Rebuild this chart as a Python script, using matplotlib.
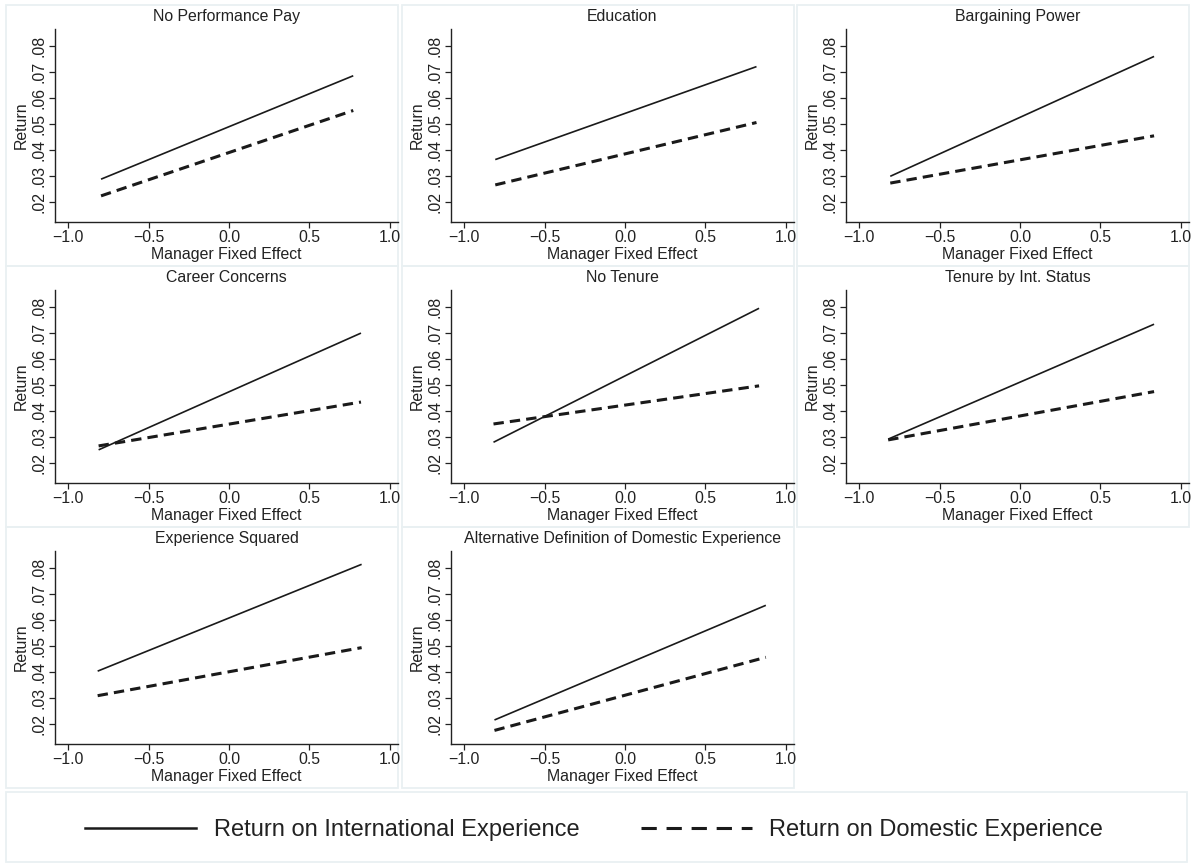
import numpy as np
import matplotlib.pyplot as plt
from matplotlib.lines import Line2D
from matplotlib.patches import Rectangle

plt.rcParams['font.family'] = ['Liberation Sans', 'DejaVu Sans']

#%% predicted returns at the ends of the manager fixed effect range
titles = ['No Performance Pay', 'Education', 'Bargaining Power',
          'Career Concerns', 'No Tenure', 'Tenure by Int. Status',
          'Experience Squared', 'Alternative Definition of Domestic Experience']
x_lo = [-0.795, -0.806, -0.806, -0.810, -0.817, -0.819, -0.816, -0.811]
x_hi = [0.772, 0.817, 0.833, 0.820, 0.833, 0.833, 0.824, 0.875]
intl_lo = [0.0289, 0.0364, 0.0300, 0.0252, 0.0281, 0.0293, 0.0404, 0.0217]
intl_hi = [0.0685, 0.0720, 0.0759, 0.0699, 0.0794, 0.0733, 0.0813, 0.0656]
dom_lo = [0.0225, 0.0267, 0.0274, 0.0267, 0.0351, 0.0290, 0.0310, 0.0177]
dom_hi = [0.0552, 0.0506, 0.0455, 0.0435, 0.0497, 0.0475, 0.0494, 0.0457]

xticks = [-1.0, -0.5, 0.0, 0.5, 1.0]
yticks = [0.02, 0.03, 0.04, 0.05, 0.06, 0.07, 0.08]
ytick_labels = ['.02', '.03', '.04', '.05', '.06', '.07', '.08']

W, H = 1191, 864
fig = plt.figure(figsize=(W / 100, H / 100), dpi=100)
fig.patch.set_facecolor('white')

frame_col = '#e9f0f2'
line_col = '#1a1a1a'
fs = 11.4

col_left = [6, 402, 797]
row_top = [5, 266, 527]
panel_w, panel_h = 392, 261


def px_rect(x0, y0, w, h):
    # pixel box (top-left origin) -> figure fraction
    return [x0 / W, 1 - (y0 + h) / H, w / W, h / H]


for i in range(len(titles)):
    r, c = divmod(i, 3)
    px, py = col_left[c], row_top[r]
    fig.patches.append(Rectangle((px / W, 1 - (py + panel_h) / H), panel_w / W, panel_h / H,
                                 transform=fig.transFigure, fill=False,
                                 edgecolor=frame_col, lw=1.3, zorder=-1))
    ax = fig.add_axes(px_rect(px + 49, py + 24, panel_w - 49, 193))
    ax.plot([x_lo[i], x_hi[i]], [intl_lo[i], intl_hi[i]], color=line_col, lw=1.2,
            solid_capstyle='butt')
    ax.plot([x_lo[i], x_hi[i]], [dom_lo[i], dom_hi[i]], color=line_col, lw=2.2,
            dashes=(3.4, 2.0), dash_capstyle='butt')
    ax.set_xlim(-1.081, 1.05)
    ax.set_ylim(0.0125, 0.0864)
    ax.set_xticks(xticks)
    ax.set_xticklabels(['\u22121.0', '\u22120.5', '0.0', '0.5', '1.0'])
    ax.set_yticks(yticks)
    ax.set_yticklabels(ytick_labels, rotation=90, va='center')
    for s in ['top', 'right']:
        ax.spines[s].set_visible(False)
    for s in ['left', 'bottom']:
        ax.spines[s].set_color('#222222')
        ax.spines[s].set_linewidth(1.0)
    ax.tick_params(length=4, width=0.9, color='#222222', labelsize=fs,
                   labelcolor='#222222', pad=2)
    ax.set_xlabel('Manager Fixed Effect', fontsize=fs, labelpad=1, color='#222222')
    ax.set_ylabel('Return', fontsize=fs, labelpad=2, color='#222222')
    ax.set_title(titles[i], fontsize=fs, pad=6, color='#222222')
    ax.patch.set_alpha(0)

# legend strip along the bottom
fig.patches.append(Rectangle((6 / W, 1 - 862 / H), 1181 / W, 70 / H,
                             transform=fig.transFigure, fill=False,
                             edgecolor=frame_col, lw=1.3, zorder=-1))
handles = [Line2D([], [], color=line_col, lw=1.8),
           Line2D([], [], color=line_col, lw=2.2, dashes=(5.0, 3.2))]
fig.legend(handles, ['Return on International Experience', 'Return on Domestic Experience'],
           loc='center', bbox_to_anchor=(594 / W, 1 - 830 / H), ncol=2, frameon=False,
           fontsize=17, handlelength=4.7, handletextpad=0.75, columnspacing=2.6,
           labelcolor='#222222')

fig.savefig('out.png', dpi=100)
